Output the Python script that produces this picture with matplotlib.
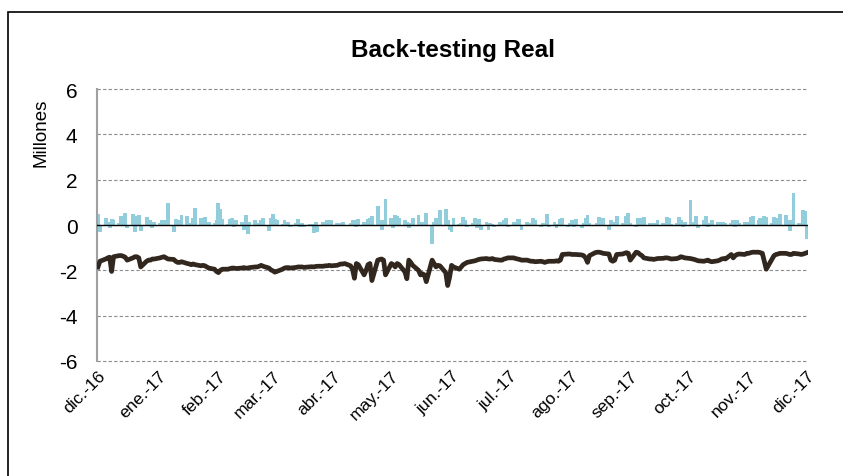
"""
Back-testing Real: daily P&L bars (millions) and the risk limit line,
dic.-16 to dic.-17.
"""

import matplotlib
matplotlib.use("Agg")
import matplotlib.pyplot as plt
import pandas as pd
from matplotlib.patches import Rectangle

plt.rcParams["font.family"] = ["Liberation Sans", "DejaVu Sans"]

# business days from 1 Dec 2016 to 1 Dec 2017 (262 observations)
START, END = "2016-12-01", "2017-12-01"

# daily result (millions), one value per business day
resultado = [
    0.5, -0.3, 0.3, 0.15, -0.15, 0.25, 0.2, 0.1, 0.4, 0.35,
    0.55, -0.15, 0.5, -0.3, 0.4, 0.45, -0.25, 0.35, 0.15, 0.2,
    -0.15, 0.15, 0.1, 0.2, 0.15, 0.2, 0.95, -0.3, 0.25, 0.2,
    0.1, 0.45, 0.4, 0.05, 0.1, 0.3, 0.75, 0.3, 0.15, 0.35,
    0.1, 0.15, 0.1, 0.2, 0.95, 0.7, 0.25, 0.05, 0.25, 0.3,
    -0.1, 0.2, 0.15, -0.2, 0.45, -0.4, 0.15, 0.2, 0.05, 0.1,
    0.2, 0.3, -0.25, 0.3, 0.5, 0.25, 0.2, 0.05, 0.2, 0.15,
    0.15, -0.1, 0.1, 0.25, -0.1, 0.1, -0.1, 0.05, 0.05, -0.35,
    0.15, -0.3, 0.15, 0.1, 0.2, 0.15, 0.2, 0.1, 0.05, 0.1,
    0.15, -0.05, 0.1, 0.2, 0.2, -0.1, 0.25, 0.15, 0.1, 0.25,
    0.3, 0.4, 0.85, 0.2, -0.2, 0.2, 1.15, 0.3, -0.15, 0.45,
    0.4, 0.3, 0.2, 0.15, -0.15, 0.1, 0.3, 0.45, 0.1, 0.15,
    0.1, 0.55, -0.85, 0.15, 0.3, 0.1, 0.65, 0.7, 0.2, -0.2,
    -0.3, 0.3, 0.05, 0.1, 0.35, 0.2, -0.1, 0.1, 0.3, -0.15,
    0.25, -0.2, 0.15, -0.2, 0.1, 0.05, -0.1, 0.15, 0.05, 0.2,
    0.3, -0.1, 0.15, -0.05, 0.25, 0.25, -0.2, 0.15, 0.05, 0.1,
    0.3, 0.2, -0.1, 0.1, 0.05, 0.5, -0.1, 0.15, -0.15, 0.05,
    0.25, 0.3, -0.1, 0.1, 0.2, -0.1, 0.25, -0.15, 0.1, 0.3,
    0.45, 0.1, -0.05, 0.1, 0.35, 0.15, 0.3, -0.2, 0.2, 0.1,
    0.15, 0.4, 0.1, 0.05, 0.4, 0.55, 0.1, -0.1, 0.3, 0.3,
    0.05, 0.35, 0.1, 0.1, 0.1, 0.05, 0.2, 0.1, 0.05, 0.35,
    0.3, 0.05, 0.1, 0.35, 0.2, -0.1, 0.15, 1.1, 0.15, 0.1,
    0.4, -0.15, 0.2, 0.4, -0.1, 0.1, 0.2, 0.15, 0.15, 0.1,
    0.15, 0.1, 0.1, 0.2, -0.1, 0.2, 0.1, 0.15, 0.1, 0.15,
    0.35, 0.4, 0.2, 0.3, 0.2, 0.4, 0.35, 0.1, 0.35, 0.3,
    0.2, 0.5, 0.45, 0.2, -0.25, 0.2, 1.4, 0.1, 0.05, 0.65,
    0.6, -0.6,
]

# VaR limit (millions), one value per business day
limite = [
    -1.85, -1.6, -1.5, -1.45, -1.42, -2.05, -1.4, -1.35, -1.35, -1.38,
    -1.42, -1.55, -1.45, -1.4, -1.4, -1.45, -1.85, -1.6, -1.55, -1.55,
    -1.5, -1.5, -1.45, -1.42, -1.4, -1.45, -1.5, -1.52, -1.6, -1.65,
    -1.65, -1.62, -1.7, -1.72, -1.75, -1.72, -1.75, -1.8, -1.78, -1.8,
    -1.85, -1.9, -1.95, -2.05, -2.1, -2.0, -1.95, -1.95, -1.92, -1.9,
    -1.9, -1.92, -1.9, -1.88, -1.9, -1.9, -1.88, -1.85, -1.85, -1.82,
    -1.78, -1.82, -1.9, -1.98, -2.02, -2.08, -2.05, -1.95, -1.9, -1.88,
    -1.88, -1.9, -1.87, -1.85, -1.85, -1.85, -1.87, -1.85, -1.84, -1.85,
    -1.83, -1.82, -1.82, -1.8, -1.8, -1.78, -1.8, -1.78, -1.75, -1.72,
    -1.72, -1.7, -1.8, -1.95, -2.35, -1.7, -1.75, -2.2, -2.0, -1.75,
    -1.7, -2.45, -1.55, -1.52, -1.5, -1.55, -2.2, -1.7, -1.75, -1.85,
    -1.7, -1.75, -2.07, -2.37, -1.55, -1.65, -1.78, -2.0, -2.2, -2.15,
    -2.2, -2.5, -1.55, -1.7, -1.85, -1.78, -1.8, -2.1, -2.67, -2.3,
    -1.78, -1.85, -1.95, -1.85, -1.75, -1.7, -1.65, -1.6, -1.58, -1.55,
    -1.52, -1.5, -1.48, -1.5, -1.5, -1.48, -1.52, -1.55, -1.55, -1.5,
    -1.48, -1.45, -1.45, -1.48, -1.5, -1.52, -1.55, -1.55, -1.58, -1.6,
    -1.6, -1.62, -1.6, -1.62, -1.65, -1.62, -1.6, -1.6, -1.58, -1.6,
    -1.55, -1.3, -1.28, -1.28, -1.3, -1.3, -1.3, -1.32, -1.35, -1.45,
    -1.65, -1.35, -1.22, -1.2, -1.2, -1.22, -1.25, -1.28, -1.55, -1.6,
    -1.55, -1.3, -1.28, -1.25, -1.22, -1.25, -1.55, -1.2, -1.22, -1.3,
    -1.35, -1.45, -1.5, -1.5, -1.52, -1.5, -1.48, -1.47, -1.45, -1.45,
    -1.47, -1.5, -1.48, -1.45, -1.4, -1.42, -1.45, -1.48, -1.5, -1.52,
    -1.55, -1.58, -1.6, -1.57, -1.55, -1.6, -1.62, -1.58, -1.55, -1.5,
    -1.48, -1.5, -1.3, -1.45, -1.35, -1.3, -1.28, -1.3, -1.25, -1.25,
    -1.22, -1.2, -1.2, -1.22, -1.25, -1.6, -1.95, -1.5, -1.35, -1.3,
    -1.28, -1.25, -1.25, -1.27, -1.3, -1.3, -1.25, -1.28, -1.3, -1.28,
    -1.25, -1.22,
]

month_labels = ["dic.-16", "ene.-17", "feb.-17", "mar.-17", "abr.-17",
                "may.-17", "jun.-17", "jul.-17", "ago.-17", "sep.-17",
                "oct.-17", "nov.-17", "dic.-17"]
y_ticks = [-6, -4, -2, 0, 2, 4, 6]

BAR_COLOR = "#92CDDC"
LINE_COLOR = "#31271E"


def main() -> None:
    dates = pd.bdate_range(START, END)
    months = pd.date_range(START, END, freq="MS")

    fig = plt.figure(figsize=(8.43, 4.77), dpi=100)
    ax = fig.add_axes([0.1151, 0.2411, 0.8434, 0.5702])

    # outer chart frame (cut off on the right/bottom in the original)
    fig.patches.append(Rectangle((0.009, -0.05), 1.2, 1.05 - 0.027,
                                 transform=fig.transFigure, fill=False,
                                 edgecolor="black", linewidth=1.2))

    # bars wider than one day so each week reads as a solid block
    ax.bar(dates, resultado, width=2.0, color=BAR_COLOR, linewidth=0, zorder=2)
    ax.plot(dates, limite, color=LINE_COLOR, linewidth=3.4,
            solid_joinstyle="round", zorder=3)
    ax.axhline(0, color="black", linewidth=1.0, zorder=4)

    ax.set_ylim(-6, 6)
    ax.set_yticks(y_ticks)
    ax.set_yticklabels([str(v) for v in y_ticks], fontsize=15)
    ax.yaxis.grid(True, linestyle=(0, (3, 2)), color="#8c8c8c", linewidth=0.8)
    for gl in ax.get_ygridlines():
        gl.set_clip_on(False)
    ax.set_axisbelow(True)

    ax.set_xlim(pd.Timestamp(START) - pd.Timedelta(days=0.5),
                pd.Timestamp(END) + pd.Timedelta(days=0.5))
    ax.set_xticks(months)
    ax.set_xticklabels(month_labels, rotation=45, ha="right",
                       rotation_mode="anchor", fontsize=12.5)
    ax.tick_params(axis="y", length=0, pad=14)
    ax.tick_params(axis="x", length=0, pad=5)

    for side in ["top", "right", "bottom"]:
        ax.spines[side].set_visible(False)
    ax.spines["left"].set_color("#a0a0a0")
    ax.spines["left"].set_linewidth(1.5)

    ax.set_title("Back-testing Real", fontsize=17.5, fontweight="bold", pad=24)
    fig.text(41 / 843, 1 - 133 / 477, "Millones", rotation=90,
             ha="center", va="center", fontsize=13.5)

    fig.savefig("out.png", dpi=100)


if __name__ == "__main__":
    main()
